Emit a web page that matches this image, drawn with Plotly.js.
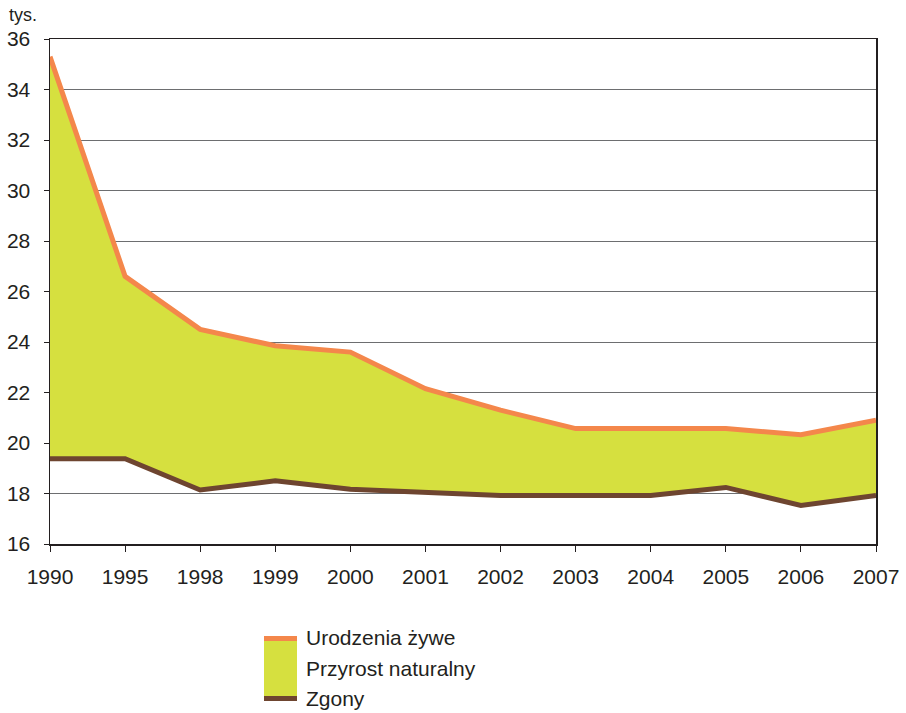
<!DOCTYPE html>
<html>
<head>
<meta charset="utf-8">
<script src="https://cdn.plot.ly/plotly-3.0.1.min.js"></script>
<style>html,body{margin:0;padding:0;background:#fff;}#chart{width:906px;height:713px;}</style>
</head>
<body>
<div id="chart"></div>
<script>
const years = ["1990","1995","1998","1999","2000","2001","2002","2003","2004","2005","2006","2007"];
const urodzenia = [35.3, 26.6, 24.5, 23.85, 23.6, 22.15, 21.3, 20.57, 20.57, 20.57, 20.33, 20.9];
const zgony = [19.38, 19.38, 18.14, 18.5, 18.17, 18.05, 17.92, 17.92, 17.92, 18.24, 17.53, 17.92];
const legendLabels = ["Urodzenia żywe", "Przyrost naturalny", "Zgony"];
const yTicks = [16,18,20,22,24,26,28,30,32,34,36];

const W = 906, H = 713, L = 50, R = 30, T = 39, B = 169;
const pw = W - L - R, ph = H - T - B;
const px = x => (x - L) / pw;
const py = y => (H - B - y) / ph;

const FONT = "Liberation Sans, Arial, sans-serif";
const orange = "#f4874b", brown = "#6e4530", green = "#d6e03f";

const traces = [
  {x: years, y: zgony, type: "scatter", mode: "lines", line: {width: 0, color: brown}, showlegend: false, hoverinfo: "skip"},
  {x: years, y: urodzenia, type: "scatter", mode: "lines", fill: "tonexty", fillcolor: green, line: {width: 0, color: orange}, showlegend: false, hoverinfo: "skip"},
  {x: years, y: zgony, type: "scatter", mode: "lines", name: legendLabels[2], line: {width: 5, color: brown}, showlegend: false},
  {x: years, y: urodzenia, type: "scatter", mode: "lines", name: legendLabels[0], line: {width: 5, color: orange}, showlegend: false}
];

const layout = {
  width: W, height: H,
  margin: {l: L, r: R, t: T, b: B},
  paper_bgcolor: "#fff", plot_bgcolor: "#fff",
  font: {family: FONT, color: "#231f20", size: 21},
  showlegend: false,
  xaxis: {
    type: "category", range: [0, years.length - 1],
    showgrid: false, zeroline: false,
    showline: true, linecolor: "#231f20", linewidth: 1.5, mirror: true,
    ticks: "outside", ticklen: 6, tickcolor: "#231f20", tickwidth: 1,
    tickfont: {family: FONT, size: 21, color: "#231f20"},
    ticklabelstandoff: 7
  },
  yaxis: {
    range: [16, 36], tickvals: yTicks,
    showgrid: true, gridcolor: "#6d6e70", gridwidth: 1,
    zeroline: false,
    showline: true, linecolor: "#231f20", linewidth: 1.5, mirror: true,
    ticks: "outside", ticklen: 5, tickcolor: "#231f20", tickwidth: 1,
    tickfont: {family: FONT, size: 21, color: "#231f20"},
    ticklabelstandoff: 9
  },
  annotations: [
    {text: "tys.", xref: "paper", yref: "paper", x: px(7), y: py(15), xanchor: "left", yanchor: "middle", showarrow: false, font: {family: FONT, size: 18, color: "#231f20"}},
    {text: legendLabels[0], xref: "paper", yref: "paper", x: px(304), y: py(637), xanchor: "left", yanchor: "middle", showarrow: false, font: {family: FONT, size: 21, color: "#231f20"}},
    {text: legendLabels[1], xref: "paper", yref: "paper", x: px(304), y: py(668), xanchor: "left", yanchor: "middle", showarrow: false, font: {family: FONT, size: 21, color: "#231f20"}},
    {text: legendLabels[2], xref: "paper", yref: "paper", x: px(304), y: py(698), xanchor: "left", yanchor: "middle", showarrow: false, font: {family: FONT, size: 21, color: "#231f20"}}
  ],
  shapes: [
    {type: "rect", xref: "paper", yref: "paper", x0: px(264), x1: px(297), y0: py(701), y1: py(636), fillcolor: green, line: {width: 0}},
    {type: "rect", xref: "paper", yref: "paper", x0: px(264), x1: px(297), y0: py(641), y1: py(636), fillcolor: orange, line: {width: 0}},
    {type: "rect", xref: "paper", yref: "paper", x0: px(264), x1: px(297), y0: py(701), y1: py(696), fillcolor: brown, line: {width: 0}}
  ]
};

Plotly.newPlot("chart", traces, layout, {displayModeBar: false, staticPlot: true});
</script>
</body>
</html>
